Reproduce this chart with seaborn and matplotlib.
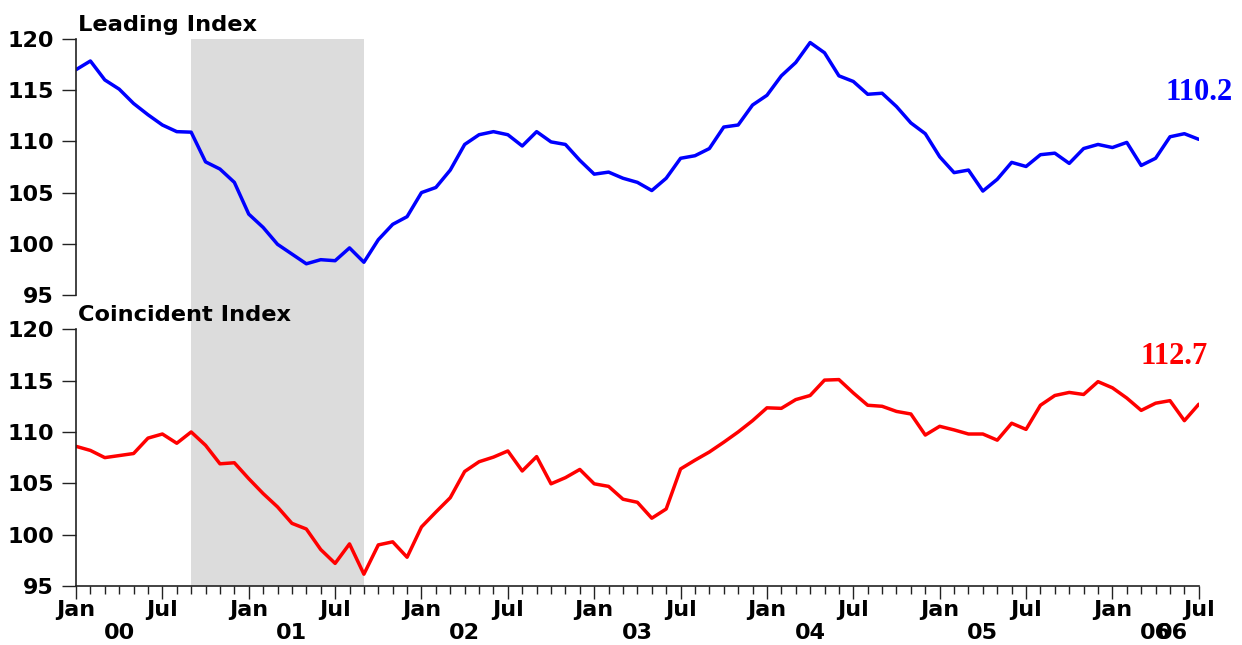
import numpy as np
import pandas as pd
import matplotlib
matplotlib.use("Agg")
import matplotlib.pyplot as plt
import matplotlib.transforms as mtransforms
import seaborn as sns

# monthly index values, Jan 2000 .. Jul 2006
leading = [117.0, 117.85, 116.0, 115.1, 113.7, 112.6, 111.6, 110.95, 110.9, 108.0,
           107.3, 106.0, 102.9, 101.6, 99.95, 99.0, 98.05, 98.45, 98.35, 99.6,
           98.2, 100.4, 101.9, 102.65, 105.0, 105.5, 107.2, 109.7, 110.65, 110.95,
           110.65, 109.55, 110.95, 109.95, 109.7, 108.15, 106.8, 107.0, 106.4, 106.0,
           105.2, 106.4, 108.35, 108.6, 109.3, 111.4, 111.6, 113.55, 114.5, 116.4,
           117.7, 119.65, 118.65, 116.4, 115.85, 114.6, 114.7, 113.4, 111.8, 110.75,
           108.5, 106.95, 107.2, 105.15, 106.3, 107.95, 107.55, 108.7, 108.85, 107.85,
           109.3, 109.7, 109.4, 109.9, 107.65, 108.35, 110.45, 110.75, 110.2]
coincident = [108.6, 108.2, 107.5, 107.7, 107.9, 109.4, 109.8, 108.9, 110.0, 108.7,
              106.9, 107.0, 105.45, 104.0, 102.7, 101.1, 100.55, 98.55, 97.2, 99.1,
              96.15, 99.0, 99.3, 97.8, 100.75, 102.2, 103.6, 106.15, 107.1, 107.55,
              108.15, 106.2, 107.6, 104.95, 105.55, 106.35, 104.95, 104.7, 103.45, 103.15,
              101.6, 102.5, 106.4, 107.25, 108.05, 109.0, 110.0, 111.1, 112.35, 112.3,
              113.15, 113.55, 115.05, 115.1, 113.8, 112.6, 112.5, 112.0, 111.75, 109.7,
              110.55, 110.2, 109.8, 109.8, 109.2, 110.85, 110.25, 112.6, 113.55, 113.85,
              113.65, 114.9, 114.3, 113.3, 112.1, 112.8, 113.05, 111.1, 112.7]
dates = pd.date_range("2000-01-01", periods=len(leading), freq="MS")
recession = ("2000-09-01", "2001-09-01")
year_labels = ["00", "01", "02", "03", "04", "05", "06"]

df = pd.DataFrame({"date": dates, "leading": leading, "coincident": coincident})
df["m"] = (df["date"].dt.year - 2000) * 12 + df["date"].dt.month - 1


def month_pos(s):
    d = pd.Timestamp(s)
    return (d.year - 2000) * 12 + d.month - 1


sns.set_theme(style="ticks")
plt.rcParams["font.family"] = ["DejaVu Sans"]
plt.rcParams["font.weight"] = "bold"
plt.rcParams["text.color"] = "black"
plt.rcParams["xtick.color"] = "black"
plt.rcParams["ytick.color"] = "black"

fig = plt.figure(figsize=(12.42, 6.45), dpi=100)
ax1 = fig.add_axes([0.0612, 0.5426, 0.904, 0.397])
ax2 = fig.add_axes([0.0612, 0.0915, 0.904, 0.398])

r0, r1 = month_pos(recession[0]), month_pos(recession[1])
xmax = df["m"].iloc[-1]
axis_col = "#222222"

for ax, col, color, title in [(ax1, "leading", "#0000FF", "Leading Index"),
                              (ax2, "coincident", "#FF0000", "Coincident Index")]:
    ax.set_facecolor("none")
    sns.lineplot(data=df, x="m", y=col, ax=ax, color=color, lw=2.5)
    ax.set_xlim(0, xmax)
    ax.set_ylim(95, 120)
    ax.set_yticks([95, 100, 105, 110, 115, 120])
    ax.set_xlabel("")
    ax.set_ylabel("")
    for sp in ["top", "right"]:
        ax.spines[sp].set_visible(False)
    ax.spines["left"].set_color(axis_col)
    ax.spines["left"].set_linewidth(1.2)
    ax.tick_params(axis="y", direction="out", length=10, width=1, color=axis_col,
                   pad=6, labelsize=16)
    for lab in ax.get_yticklabels():
        lab.set_fontweight("bold")
    ax.text(0.002, 1.015, title, transform=ax.transAxes, ha="left", va="bottom",
            fontsize=16.2, fontweight="bold")

# recession shading, running through the gap between panels
ax1.axvspan(r0, r1, ymin=-0.133, ymax=1, color="#DCDCDC", lw=0, zorder=0, clip_on=False)
ax2.axvspan(r0, r1, color="#DCDCDC", lw=0, zorder=0)

ax1.spines["bottom"].set_visible(False)
ax1.set_xticks([])

ax2.spines["bottom"].set_color(axis_col)
ax2.spines["bottom"].set_linewidth(1.2)
major = list(range(0, xmax + 1, 6))
ax2.set_xticks(major)
ax2.set_xticklabels(["Jan" if m % 12 == 0 else "Jul" for m in major])
ax2.set_xticks(range(0, xmax + 1), minor=True)
ax2.tick_params(axis="x", which="major", direction="out", length=9, width=1,
                color=axis_col, pad=1, labelsize=16)
ax2.tick_params(axis="x", which="minor", direction="out", length=6, width=1,
                color=axis_col)
for lab in ax2.get_xticklabels():
    lab.set_fontweight("bold")

trans = mtransforms.blended_transform_factory(ax2.transData, ax2.transAxes)
for i, yl in enumerate(year_labels):
    ax2.text(i * 12 + 3, -0.185, yl, transform=trans, ha="center", va="center",
             fontsize=16, fontweight="bold")
# the chart repeats the last year label slightly shifted
ax2.text(6 * 12 + 4.2, -0.185, year_labels[-1], transform=trans, ha="center",
         va="center", fontsize=16, fontweight="bold")

# last values
ax1.text(xmax, leading[-1] + 4.6, f"{leading[-1]:.1f}", ha="center", va="center",
         color="#0000FF", fontsize=22, fontweight="bold",
         family=["Liberation Serif", "DejaVu Serif"])
ax2.text(xmax - 1.7, coincident[-1] + 4.6, f"{coincident[-1]:.1f}", ha="center",
         va="center", color="#FF0000", fontsize=22, fontweight="bold",
         family=["Liberation Serif", "DejaVu Serif"])

fig.savefig("out.png", dpi=100)
